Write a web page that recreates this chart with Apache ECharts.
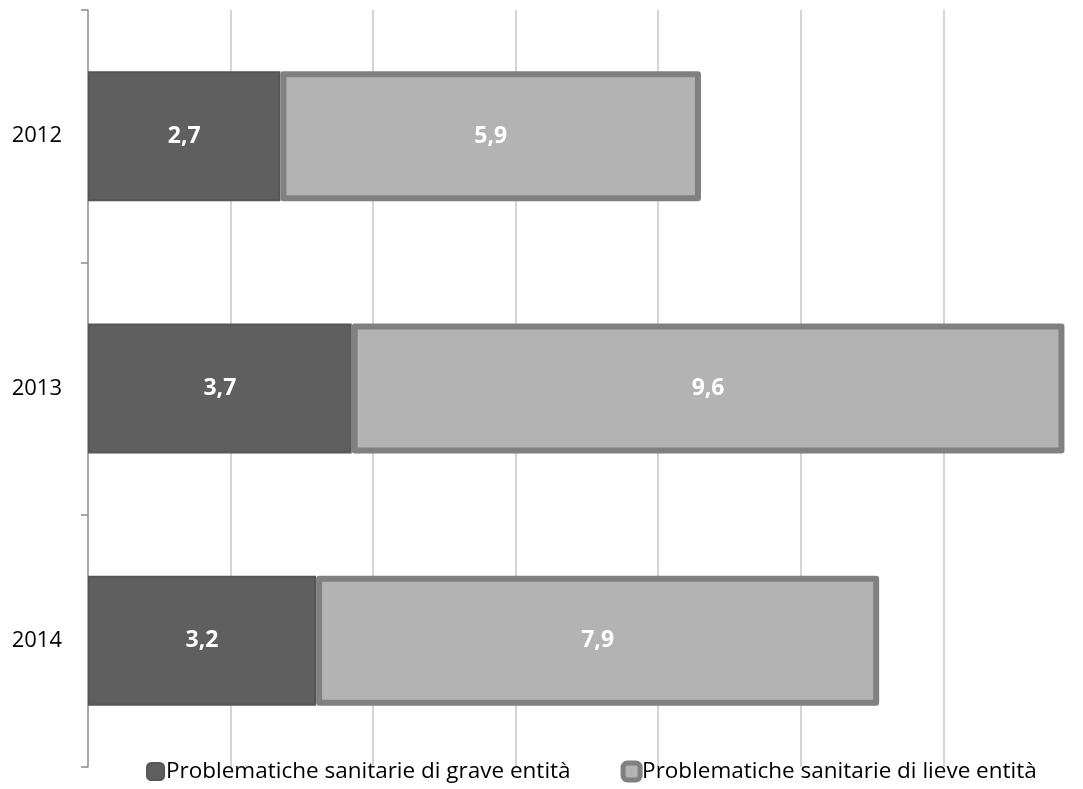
<!DOCTYPE html>
<html>
<head>
<meta charset="utf-8">
<script src="https://cdn.jsdelivr.net/npm/echarts@6/dist/echarts.min.js"></script>
<style>html,body{margin:0;padding:0;background:#fff;}#c{width:1083px;height:789px;}</style>
</head>
<body>
<div id="c"></div>
<script>
const categories = ['2012', '2013', '2014'];
const seriesNames = ['Problematiche sanitarie di grave entità', 'Problematiche sanitarie di lieve entità'];
// bar lengths
const graveValues = [2.7, 3.7, 3.2];
const lieveValues = [5.9, 10.0, 7.9];
// data labels as printed on the bars
const graveLabels = ['2,7', '3,7', '3,2'];
const lieveLabels = ['5,9', '9,6', '7,9'];

const FONT = 'Open Sans';
const chart = echarts.init(document.getElementById('c'));
chart.setOption({
  animation: false,
  textStyle: { fontFamily: FONT },
  grid: { left: 88, right: 0, top: 10, bottom: 22, containLabel: false },
  xAxis: {
    type: 'value', min: 0, max: 13.96, interval: 2,
    axisLine: { show: false }, axisTick: { show: false }, axisLabel: { show: false },
    splitLine: { show: true, showMinLine: false, showMaxLine: false, lineStyle: { color: '#c6c6c6', width: 1.5 } }
  },
  yAxis: {
    type: 'category', data: categories, inverse: true,
    axisLine: { show: true, lineStyle: { color: '#8c8c8c', width: 1.5 } },
    axisTick: { show: true, inside: false, length: 7, alignWithLabel: false, lineStyle: { color: '#8c8c8c', width: 1.5 } },
    axisLabel: { color: '#000', fontSize: 22, fontFamily: FONT, margin: 26 },
    splitLine: { show: false }
  },
  legend: {
    left: 141, bottom: 1, itemWidth: 17, itemHeight: 17, itemGap: 50,
    icon: 'roundRect',
    textStyle: { fontSize: 22.5, color: '#000', fontFamily: FONT, padding: [0, 0, 0, -3] },
    data: [
      { name: seriesNames[0], itemStyle: { color: '#5f5f5f', borderColor: '#565656', borderWidth: 2 } },
      { name: seriesNames[1], itemStyle: { color: '#b3b3b3', borderColor: '#808080', borderWidth: 5 } }
    ]
  },
  series: [
    {
      name: seriesNames[0], type: 'bar', stack: 'tot', barWidth: 130,
      data: graveValues,
      itemStyle: { color: '#5f5f5f', borderColor: '#565656', borderWidth: 2 },
      label: { show: true, position: 'inside', color: '#fff', fontWeight: 'bold', fontSize: 23, fontFamily: FONT,
        formatter: p => graveLabels[p.dataIndex] }
    },
    {
      name: seriesNames[1], type: 'bar', stack: 'tot', barWidth: 130,
      data: lieveValues,
      itemStyle: { color: '#b3b3b3', borderColor: '#808080', borderWidth: 6, borderJoin: 'round' },
      label: { show: true, position: 'inside', color: '#fff', fontWeight: 'bold', fontSize: 23, fontFamily: FONT,
        formatter: p => lieveLabels[p.dataIndex] }
    }
  ]
});
</script>
</body>
</html>
